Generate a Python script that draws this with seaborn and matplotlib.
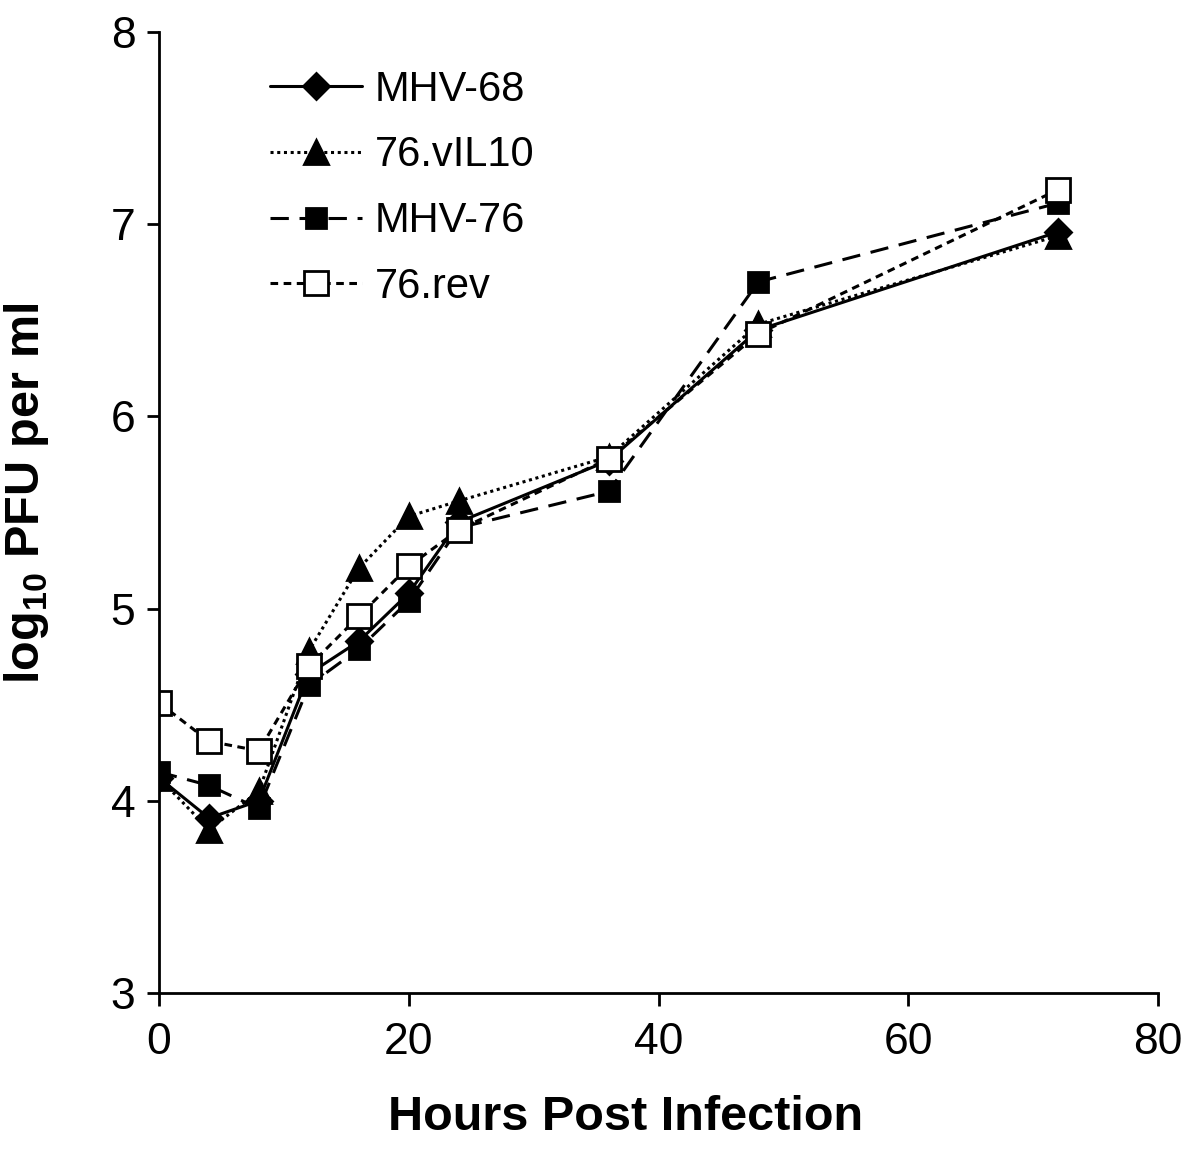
import pandas as pd
import matplotlib.pyplot as plt
import seaborn as sns

# Data
hours = [0, 4, 8, 12, 16, 20, 24, 36, 48, 72]
mhv68 = [4.12, 3.91, 4.00, 4.66, 4.83, 5.08, 5.45, 5.77, 6.45, 6.96]
vil10 = [4.12, 3.85, 4.05, 4.78, 5.21, 5.48, 5.56, 5.79, 6.48, 6.94]
mhv76 = [4.15, 4.08, 3.96, 4.60, 4.79, 5.04, 5.42, 5.61, 6.70, 7.11]
rev76 = [4.51, 4.31, 4.26, 4.70, 4.96, 5.22, 5.41, 5.78, 6.43, 7.18]

series = {'MHV-68': mhv68, '76.vIL10': vil10, 'MHV-76': mhv76, '76.rev': rev76}
df = pd.DataFrame([(h, v, name) for name, vals in series.items() for h, v in zip(hours, vals)],
                  columns=['hours', 'pfu', 'virus'])

sns.set_style("ticks")
plt.rcParams['font.family'] = ['Liberation Sans', 'DejaVu Sans']
plt.rcParams['mathtext.fontset'] = 'custom'
plt.rcParams['mathtext.bf'] = 'Liberation Sans:bold'
for k in ['text.color', 'axes.labelcolor', 'xtick.color', 'ytick.color']:
    plt.rcParams[k] = 'black'

styles = {
    'MHV-68': dict(marker='D', linestyle='-', mfc='black', ms=13),
    '76.vIL10': dict(marker='^', linestyle=(0, (1, 1.2)), mfc='black', ms=17),
    'MHV-76': dict(marker='s', linestyle=(0, (6, 3.5)), mfc='black', ms=15),
    '76.rev': dict(marker='s', linestyle=(0, (2.5, 1.8)), mfc='white', ms=17),
}

fig = plt.figure(figsize=(12, 11.56), dpi=100)
ax = fig.add_axes([0.1325, 0.141, 0.8325, 0.8313])

for name, st in styles.items():
    sns.lineplot(data=df[df.virus == name], x='hours', y='pfu', ax=ax, color='black',
                 lw=2.2, marker=st['marker'], linestyle=st['linestyle'],
                 markerfacecolor=st['mfc'], markeredgecolor='black', markeredgewidth=2,
                 markersize=st['ms'], label=name)

ax.set_xlim(0, 80)
ax.set_ylim(3, 8)
ax.set_xticks([0, 20, 40, 60, 80])
ax.set_yticks([3, 4, 5, 6, 7, 8])
ax.tick_params(labelsize=32, width=2, length=9)
ax.tick_params(axis='x', pad=12)
ax.tick_params(axis='y', pad=8)
for s in ['top', 'right']:
    ax.spines[s].set_visible(False)
for s in ['left', 'bottom']:
    ax.spines[s].set_linewidth(2)
    ax.spines[s].set_color('black')
ax.set_xlabel('Hours Post Infection', fontsize=35, fontweight='bold')
ax.xaxis.set_label_coords(0.4675, -0.106)
ax.set_ylabel(r'log$_{\mathbf{10}}$ PFU per ml', fontsize=35, fontweight='bold')
ax.yaxis.set_label_coords(-0.108, 0.52)

leg = ax.legend(loc='upper left', bbox_to_anchor=(0.074, 1.0), fontsize=30, frameon=False,
                handlelength=2.2, labelspacing=0.62, handletextpad=0.3)

fig.savefig('out.png', dpi=100)
